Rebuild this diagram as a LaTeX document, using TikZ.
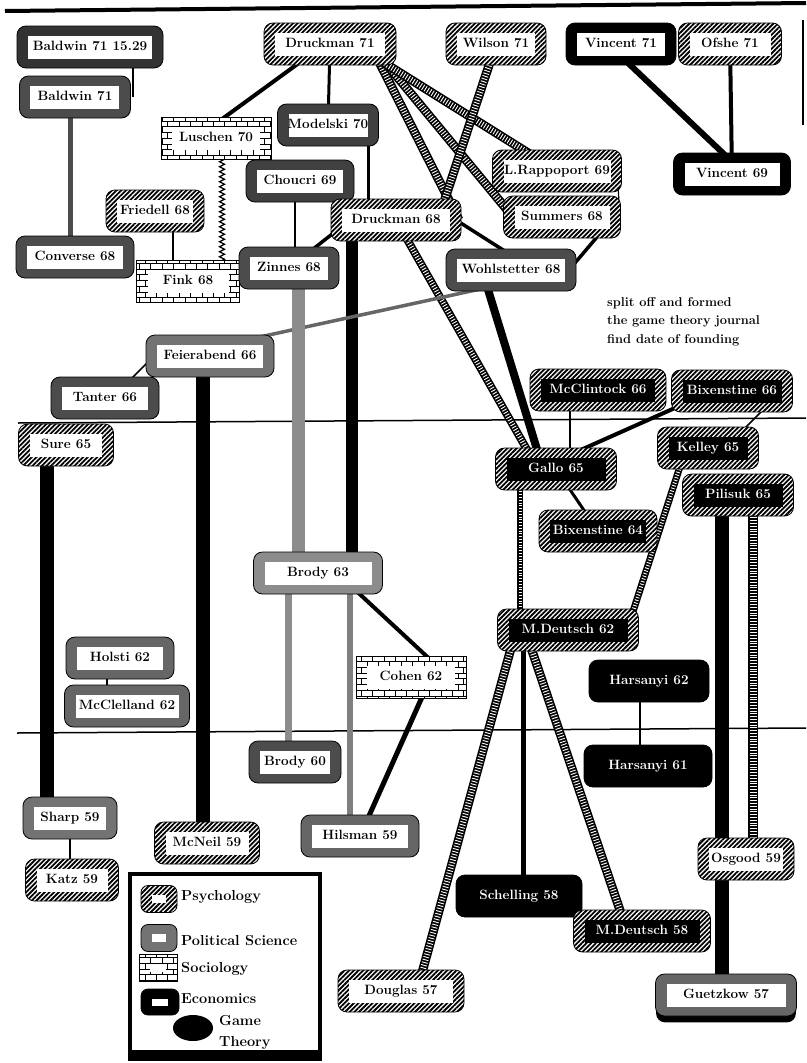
\documentclass[tikz,border=0pt]{standalone}
\usepackage{fontspec}
\usetikzlibrary{patterns,patterns.meta,decorations.pathmorphing,shapes.geometric}
\pgfdeclarelayer{back}
\pgfdeclarelayer{edges}
\pgfsetlayers{back,edges,main}
\setlength{\fboxsep}{0pt}
\newcommand\wbox[2]{\colorbox{white}{\makebox[#1pt]{\rule[-8pt]{0pt}{23pt}#2}}}
\newcommand\gbox[2]{\colorbox{black}{\makebox[#1pt]{\rule[-8pt]{0pt}{23pt}\textcolor{white}{#2}}}}
\tikzset{
  box/.style={rounded corners=9pt, inner xsep=11pt, inner ysep=9.5pt, draw=black, line width=0.8pt, font=\fontsize{13.5}{15}\selectfont\bfseries},
  psy/.style={box, preaction={fill=white}, pattern={Lines[angle=45,distance=3.3pt,line width=1.8pt]}},
  pol/.style={box, fill=black!#1},
  pol/.default=60,
  soc/.style={box, rounded corners=0pt, preaction={fill=white}, pattern=bricks},
  eco/.style={box, fill=black},
  psyl/.style={line width=#1, draw=black, postaction={draw=white, line width=#1-3pt, dash pattern=on 0.9pt off 1.9pt}},
  poll/.style={line width=#1, draw=black!50},
  ecl/.style={line width=#1, draw=black},
  socl/.style={draw=black, line width=1.2pt, decorate, decoration={zigzag, segment length=5pt, amplitude=2.5pt}},
  legtext/.style={anchor=west, inner sep=0pt, font=\fontsize{14.5}{21}\selectfont\bfseries, align=left},
}
\begin{document}
\begin{tikzpicture}[x=1pt,y=-1pt]
\useasboundingbox (0,0) rectangle (806,1063);
\begin{pgfonlayer}{back}
\fill[white] (0,0) rectangle (806,1063);
\draw[line width=4pt] (5,11) -- (806,3);
\draw[line width=1.2pt] (803,20) -- (803,125);
\draw[line width=1.5pt] (18,423) -- (806,418);
\draw[line width=1.5pt] (17,733) -- (806,728);
\end{pgfonlayer}

% nodes
\node[pol=80] (Baldwin7115) at (90,47) {\wbox{124}{Baldwin 71 15.29}};
\node[pol=70] (Baldwin71) at (75,97) {\wbox{89}{Baldwin 71}};
\node[pol=70] (Converse68) at (75,257) {\wbox{96}{Converse 68}};
\node[psy] (Druckman71) at (330,44) {\wbox{110}{Druckman 71}};
\node[soc] (Luschen70) at (216,138) {\wbox{88}{Luschen 70}};
\node[pol=75] (Modelski70) at (328,125) {\wbox{79}{Modelski 70}};
\node[pol=75] (Choucri69) at (300,181) {\wbox{86}{Choucri 69}};
\node[psy] (Friedell68) at (155,211) {\wbox{76}{Friedell 68}};
\node[soc] (Fink68) at (188,281) {\wbox{81}{Fink 68}};
\node[pol=70] (Zinnes68) at (289,268) {\wbox{78}{Zinnes 68}};
\node[psy] (Druckman68) at (396,220) {\wbox{108}{Druckman 68}};
\node[psy] (Wilson71) at (496,44) {\wbox{78}{Wilson 71}};
\node[eco] (Vincent71) at (621,44) {\wbox{88}{Vincent 71}};
\node[psy] (Ofshe71) at (730,44) {\wbox{81}{Ofshe 71}};
\node[psy] (LRappoport69) at (557,171) {\wbox{107}{L.Rappoport 69}};
\node[eco] (Vincent69) at (732,174) {\wbox{95}{Vincent 69}};
\node[psy] (Summers68) at (562,217) {\wbox{95}{Summers 68}};
\node[pol=70] (Wohlstetter68) at (511,270) {\wbox{108}{Wohlstetter 68}};
\node[pol=55] (Feierabend66) at (210,356) {\wbox{106}{Feierabend 66}};
\node[pol=70] (Tanter66) at (105,398) {\wbox{86}{Tanter 66}};
\node[psy] (Sure65) at (66,445) {\wbox{73}{Sure 65}};
\node[pol=45] (Brody63) at (318,573) {\wbox{107}{Brody 63}};
\node[pol=60] (Holsti62) at (120,658) {\wbox{86}{Holsti 62}};
\node[pol=60] (McClelland62) at (127,706) {\wbox{103}{McClelland 62}};
\node[pol=70] (Brody60) at (295,762) {\wbox{70}{Brody 60}};
\node[pol=55] (Sharp59) at (70,818) {\wbox{72}{Sharp 59}};
\node[psy] (McNeil59) at (207,843) {\wbox{83}{McNeil 59}};
\node[psy] (Katz59) at (72,880) {\wbox{71}{Katz 59}};
\node[pol=60] (Hilsman59) at (360,836) {\wbox{96}{Hilsman 59}};
\node[soc] (Cohen62) at (411,677) {\wbox{88}{Cohen 62}};
\node[psy] (Gallo65) at (556,469) {\gbox{99}{Gallo 65}};
\node[psy] (Bixenstine64) at (598,531) {\gbox{96}{Bixenstine 64}};
\node[psy] (MDeutsch62) at (568,630) {\gbox{119}{M.Deutsch 62}};
\node[psy] (McClintock66) at (598,390) {\gbox{114}{McClintock 66}};
\node[psy] (Bixenstine66) at (732,391) {\gbox{99}{Bixenstine 66}};
\node[psy] (Kelley65) at (708,448) {\gbox{79}{Kelley 65}};
\node[psy] (Pilisuk65) at (738,495) {\gbox{89}{Pilisuk 65}};
\node[eco] (Harsanyi62) at (649,681) {\gbox{98}{Harsanyi 62}};
\node[eco] (Harsanyi61) at (648,766) {\gbox{106}{Harsanyi 61}};
\node[psy] (Osgood59) at (746,859) {\wbox{74}{Osgood 59}};
\node[eco] (Schelling58) at (519,896) {\gbox{104}{Schelling 58}};
\node[psy] (MDeutsch58) at (642,931) {\gbox{115}{M.Deutsch 58}};
\node[psy] (Douglas57) at (401,991) {\wbox{104}{Douglas 57}};
\node[pol=60] (Guetzkow57) at (726,995) {\wbox{119}{Guetzkow 57}};

\node[anchor=north west, inner sep=0pt, align=left, font=\fontsize{12.8}{18.5}\selectfont\bfseries] (note) at (607,297) {split off and formed\\the game theory journal\\find date of founding};

% legend
\draw[line width=4pt] (130,874) rectangle (320,1054);
\fill (128,1050) rectangle (322,1061);
\node[psy, rounded corners=7pt] (kpsy) at (159,899) {\colorbox{white}{\rule{0pt}{8pt}\hspace{14pt}}};
\node[pol=55, rounded corners=7pt] (kpol) at (159,938) {\colorbox{white}{\rule{0pt}{8pt}\hspace{14pt}}};
\node[soc] (ksoc) at (158,968) {\colorbox{white}{\rule{0pt}{8pt}\hspace{16pt}}};
\node[eco, rounded corners=7pt] (keco) at (160,1002) {\colorbox{white}{\rule{0pt}{7pt}\hspace{16pt}}};
\node[ellipse, fill=black, minimum width=40pt, minimum height=26pt, inner sep=0pt] (kgt) at (193,1028) {};
\node[legtext] (lpsy) at (181,897) {Psychology};
\node[legtext] (lpol) at (181,941) {Political Science};
\node[legtext] (lsoc) at (181,969) {Sociology};
\node[legtext] (leco) at (181,999) {Economics};
\node[legtext] (lgt) at (219,1032) {Game\\Theory};

% edges
\begin{pgfonlayer}{edges}
\fill[rounded corners=9pt] ([xshift=1,yshift=14]Guetzkow57.south west) rectangle ([xshift=-1,yshift=-6]Guetzkow57.south east);
\draw[ecl=1.2pt] ([xshift=43]Baldwin7115.center) -- ([xshift=58]Baldwin71.center);
\draw[poll=5pt, black!70] ([xshift=-5]Baldwin71.center) -- ([xshift=-5]Converse68.center);
\draw[ecl=4pt] ([xshift=-5]Druckman71.center) -- ([xshift=-20]Luschen70.center);
\draw[ecl=3pt] (Druckman71.center) -- (Modelski70.center);
\draw[psyl=9pt] ([xshift=40]Druckman71.center) -- ([xshift=63]Druckman68.center);
\draw[psyl=9pt] ([xshift=40]Druckman71.center) -- ([xshift=-49]Summers68.center);
\draw[psyl=9pt] ([xshift=24]Druckman71.center) -- (LRappoport69.center);
\draw[psyl=9pt] (Wilson71.center) -- ([xshift=42]Druckman68.center);
\draw[ecl=3pt] ([xshift=40]Modelski70.center) -- ([xshift=-28]Druckman68.center);
\draw[ecl=1.5pt] ([xshift=-5]Choucri69.center) -- ([xshift=6]Zinnes68.center);
\draw[socl] ([xshift=6]Luschen70.center) -- ([xshift=34]Fink68.center);
\draw[ecl=1.5pt] ([xshift=18]Friedell68.center) -- ([xshift=-15]Fink68.center);
\draw[ecl=3.5pt] ([xshift=-46]Druckman68.center) -- (Zinnes68.center);
\draw[ecl=12pt] ([xshift=-44]Druckman68.center) -- ([xshift=34]Brody63.center);
\draw[ecl=3.5pt] ([xshift=60]Druckman68.center) -- ([yshift=15]Wohlstetter68.center);
\draw[ecl=3.5pt] ([xshift=52]Summers68.center) -- ([xshift=58]Wohlstetter68.center);
\draw[ecl=1.2pt] ([xshift=60]LRappoport69.center) -- ([xshift=58]Summers68.center);
\draw[psyl=8pt] (Druckman68.center) -- ([xshift=-18]Gallo65.center);
\draw[ecl=8pt] ([xshift=-29]Wohlstetter68.center) -- ([xshift=-13]Gallo65.center);
\draw[poll=3.5pt, black!60] ([xshift=-26,yshift=-18]Wohlstetter68.center) -- ([xshift=45,yshift=18]Feierabend66.center);
\draw[poll=13pt, black!45] ([xshift=9]Zinnes68.center) -- ([xshift=-20]Brody63.center);
\draw[ecl=1.5pt] ([xshift=-62,yshift=-6]Feierabend66.center) -- ([xshift=15,yshift=8]Tanter66.center);
\draw[ecl=14pt] ([xshift=-7]Feierabend66.center) -- ([xshift=-4]McNeil59.center);
\draw[ecl=14pt] ([xshift=-19]Sure65.center) -- ([xshift=-23]Sharp59.center);
\draw[ecl=1.5pt] (Sharp59.center) -- ([xshift=-2]Katz59.center);
\draw[ecl=1.5pt] ([xshift=-13]Holsti62.center) -- ([xshift=-20]McClelland62.center);
\draw[poll=7pt, black!45] ([xshift=-30]Brody63.center) -- ([xshift=-7]Brody60.center);
\draw[poll=6pt, black!50] ([xshift=32]Brody63.center) -- ([xshift=-10]Hilsman59.center);
\draw[ecl=4pt] ([xshift=19]Brody63.center) -- ([xshift=38]Cohen62.center);
\draw[ecl=5pt] ([xshift=20]Cohen62.center) -- (Hilsman59.center);
\draw[ecl=1.8pt] ([xshift=14]Gallo65.center) -- ([xshift=-28]McClintock66.center);
\draw[ecl=4pt] ([xshift=-18]Gallo65.center) -- ([xshift=-19]Bixenstine66.center);
\draw[ecl=1.5pt] ([xshift=40,yshift=-10]Bixenstine66.center) -- ([xshift=25,yshift=8]Kelley65.center);
\draw[ecl=3pt] (Gallo65.center) -- (Bixenstine64.center);
\draw[psyl=6pt] ([xshift=-36]Gallo65.center) -- ([xshift=-48]MDeutsch62.center);
\draw[psyl=7pt] ([xshift=-22]Kelley65.center) -- ([xshift=59]MDeutsch62.center);
\draw[ecl=14pt] ([xshift=-16]Pilisuk65.center) -- ([xshift=-4]Guetzkow57.center);
\draw[psyl=10pt] ([xshift=15]Pilisuk65.center) -- ([xshift=7]Osgood59.center);
\draw[ecl=5pt] ([xshift=-45]MDeutsch62.center) -- ([xshift=4]Schelling58.center);
\draw[psyl=9pt] ([xshift=-43]MDeutsch62.center) -- ([xshift=-15]MDeutsch58.center);
\draw[psyl=9pt] ([xshift=-52]MDeutsch62.center) -- ([xshift=16]Douglas57.center);
\draw[ecl=1.5pt] ([xshift=-9]Harsanyi62.center) -- ([xshift=-8]Harsanyi61.center);
\draw[ecl=6pt] ([xshift=-13]Vincent71.center) -- ([xshift=13]Vincent69.center);
\draw[ecl=4pt] (Ofshe71.center) -- (Vincent69.center);
\end{pgfonlayer}
\end{tikzpicture}
\end{document}
